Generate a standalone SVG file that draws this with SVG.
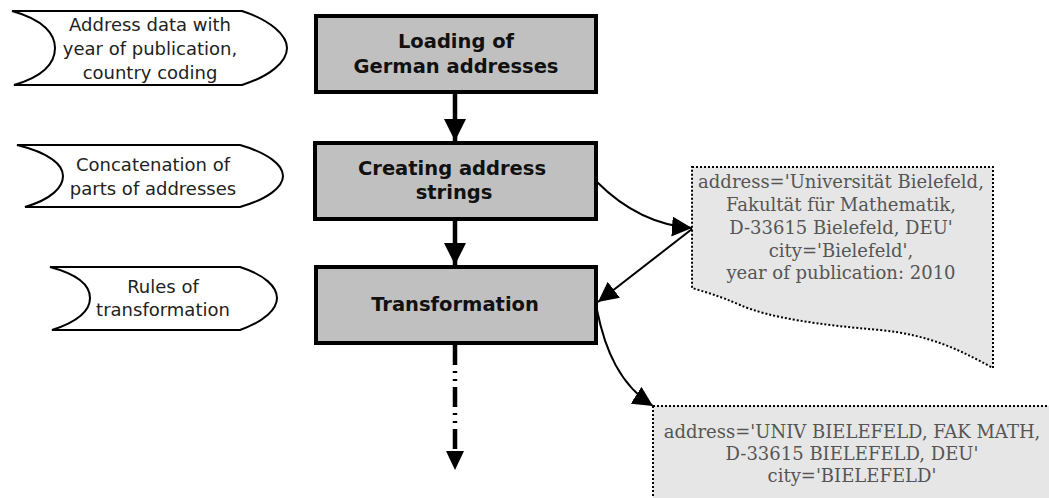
<svg xmlns="http://www.w3.org/2000/svg" width="1049" height="498" viewBox="0 0 1049 498">
<defs>
<style>
.inp{fill:#fff;stroke:#000;stroke-width:2}
.inp-t{font-family:"DejaVu Sans",sans-serif;font-size:18px;fill:#222;text-anchor:middle}
.box{fill:#c0c0c0;stroke:#000;stroke-width:4}
.box-t{font-family:"DejaVu Sans",sans-serif;font-size:19.5px;font-weight:bold;fill:#111;text-anchor:middle}
.note{fill:#e6e6e6;stroke:#000;stroke-width:2;stroke-dasharray:2 2}
.note-t{font-family:"DejaVu Serif",serif;font-size:18px;fill:#555;text-anchor:middle}
.thick{stroke:#000;stroke-width:4.5;fill:none}
.thin{stroke:#000;stroke-width:2;fill:none}
</style>
<marker id="ah" viewBox="0 0 10 10" refX="10" refY="5" markerWidth="5" markerHeight="5" orient="auto" markerUnits="strokeWidth"><path d="M0,0 L10,5 L0,10 z" fill="#000"/></marker>
<marker id="ahs" viewBox="0 0 10 10" refX="10" refY="5" markerWidth="10" markerHeight="10" orient="auto" markerUnits="strokeWidth"><path d="M0,0 L10,5 L0,10 z" fill="#000"/></marker>
</defs>
<g id="input1">
<path class="inp" d="M12,11 L242,11 C270,20 287,35 287,48 C287,62 270,76 242,85 L14,85 C45,76 55,62 55,48 C55,35 45,20 12,11 Z"/>
<text class="inp-t" x="150" y="31">Address data with</text>
<text class="inp-t" x="150" y="55">year of publication,</text>
<text class="inp-t" x="150" y="79">country coding</text>
</g>
<g id="input2">
<path class="inp" d="M17,145 L240,145 C268,153 283,165 283,176 C283,187 268,199 240,207 L25,207 C52,199 63,187 63,176 C63,165 50,153 17,145 Z"/>
<text class="inp-t" x="153" y="171">Concatenation of</text>
<text class="inp-t" x="153" y="195">parts of addresses</text>
</g>
<g id="input3">
<path class="inp" d="M50,267 L240,267 C265,275 277,287 277,298 C277,309 265,321 240,330 L52,330 C80,321 90,309 90,298 C90,287 80,275 50,267 Z"/>
<text class="inp-t" x="163" y="293">Rules of</text>
<text class="inp-t" x="163" y="316">transformation</text>
</g>
<g id="box1">
<rect class="box" x="316" y="16" width="280" height="76"/>
<text class="box-t" x="456" y="48">Loading of</text>
<text class="box-t" x="456" y="73">German addresses</text>
</g>
<g id="box2">
<rect class="box" x="315" y="143" width="281" height="76"/>
<text class="box-t" x="452" y="175">Creating address</text>
<text class="box-t" x="454" y="199">strings</text>
</g>
<g id="box3">
<rect class="box" x="316" y="267" width="280" height="76"/>
<text class="box-t" x="455" y="311">Transformation</text>
</g>
<g id="note1">
<path class="note" d="M692,167 L993,167 L993,368 C960,350 930,335 880,330 C820,325 770,318 740,305 C720,296 705,292 692,288 Z"/>
<text class="note-t" x="841" y="188">address='Universität Bielefeld,</text>
<text class="note-t" x="841" y="211">Fakultät für Mathematik,</text>
<text class="note-t" x="841" y="234">D-33615 Bielefeld, DEU'</text>
<text class="note-t" x="841" y="257">city='Bielefeld',</text>
<text class="note-t" x="841" y="279">year of publication: 2010</text>
</g>
<g id="note2">
<path class="note" d="M653,406 L1055,406 L1055,505 L653,505 Z"/>
<text class="note-t" x="852" y="438">address='UNIV BIELEFELD, FAK MATH,</text>
<text class="note-t" x="852" y="460">D-33615 BIELEFELD, DEU'</text>
<text class="note-t" x="852" y="482">city='BIELEFELD'</text>
</g>
<g id="connectors">
<path class="thick" d="M455,93 L455,141" marker-end="url(#ah)"/>
<path class="thick" d="M455,220 L455,265" marker-end="url(#ah)"/>
<path class="thick" d="M455,345 L455,451" stroke-dasharray="20 6 2 6 2 6"/>
<path d="M446,451 L464,451 L455,470 Z" fill="#000"/>
<path class="thin" d="M597,182 C620,205 650,225 692,228" marker-end="url(#ahs)"/>
<path class="thin" d="M692,229 L598,302" marker-end="url(#ahs)"/>
<path class="thin" d="M597,310 C605,350 620,385 653,406" marker-end="url(#ahs)"/>
</g>
</svg>
